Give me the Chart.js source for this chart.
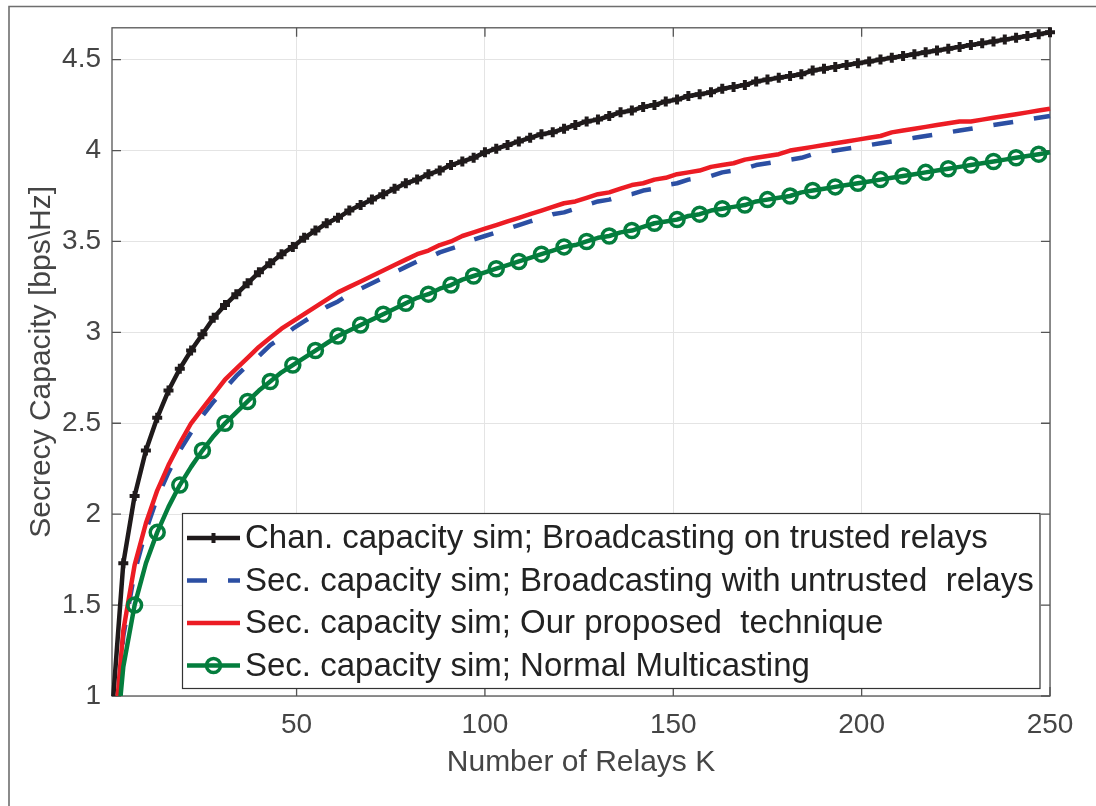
<!DOCTYPE html>
<html>
<head>
<meta charset="utf-8">
<script src="https://cdn.jsdelivr.net/npm/chart.js@4.4.1/dist/chart.umd.min.js"></script>
<style>
  html, body { margin: 0; padding: 0; background: #fff; }
  #wrap { width: 1096px; height: 806px; position: relative; }
</style>
</head>
<body>
<div id="wrap"><canvas id="chart"></canvas></div>
<script>
// Number of relays K (sampled every 3)
const relays = [1,4,7,10,13,16,19,22,25,28,31,34,37,40,43,46,49,52,55,58,61,64,67,70,73,76,79,82,85,88,91,94,97,100,
  103,106,109,112,115,118,121,124,127,130,133,136,139,142,145,148,151,154,157,160,163,166,169,172,175,178,181,184,187,190,
  193,196,199,202,205,208,211,214,217,220,223,226,229,232,235,238,241,244,247,250];

const chanTrusted = [0.90,1.73,2.10,2.35,2.53,2.68,2.80,2.90,2.99,3.08,3.15,3.21,3.27,3.33,3.38,3.43,3.47,3.52,3.56,3.60,
  3.63,3.67,3.70,3.73,3.76,3.79,3.82,3.84,3.87,3.89,3.92,3.94,3.96,3.99,4.01,4.03,4.05,4.07,4.09,4.10,4.12,4.14,4.16,4.17,
  4.19,4.21,4.22,4.24,4.25,4.27,4.28,4.30,4.31,4.32,4.34,4.35,4.36,4.38,4.39,4.40,4.41,4.42,4.44,4.45,4.46,4.47,4.48,4.49,
  4.50,4.51,4.52,4.53,4.54,4.55,4.56,4.57,4.58,4.59,4.60,4.61,4.62,4.63,4.64,4.65];

const secUntrusted = [0.61,1.33,1.68,1.91,2.09,2.23,2.35,2.45,2.54,2.62,2.69,2.76,2.82,2.87,2.93,2.97,3.02,3.06,3.10,3.14,
  3.17,3.21,3.24,3.27,3.30,3.33,3.36,3.39,3.41,3.44,3.46,3.48,3.51,3.53,3.55,3.57,3.59,3.61,3.63,3.65,3.66,3.68,3.70,3.72,
  3.73,3.75,3.76,3.78,3.79,3.81,3.82,3.84,3.85,3.86,3.88,3.89,3.90,3.92,3.93,3.94,3.95,3.96,3.98,3.99,4.00,4.01,4.02,4.03,
  4.04,4.05,4.06,4.07,4.08,4.09,4.10,4.11,4.12,4.13,4.14,4.15,4.16,4.17,4.18,4.19];

const secProposed = [0.63,1.36,1.72,1.95,2.13,2.27,2.39,2.50,2.58,2.66,2.74,2.80,2.86,2.92,2.97,3.02,3.06,3.10,3.14,3.18,
  3.22,3.25,3.28,3.31,3.34,3.37,3.40,3.43,3.45,3.48,3.50,3.53,3.55,3.57,3.59,3.61,3.63,3.65,3.67,3.69,3.71,3.72,3.74,3.76,
  3.77,3.79,3.81,3.82,3.84,3.85,3.87,3.88,3.89,3.91,3.92,3.93,3.95,3.96,3.97,3.98,4.00,4.01,4.02,4.03,4.04,4.05,4.06,4.07,
  4.08,4.10,4.11,4.12,4.13,4.14,4.15,4.16,4.16,4.17,4.18,4.19,4.20,4.21,4.22,4.23];

const secMulticast = [0.50,1.16,1.50,1.73,1.90,2.04,2.16,2.26,2.35,2.43,2.50,2.56,2.62,2.68,2.73,2.78,2.82,2.86,2.90,2.94,
  2.98,3.01,3.04,3.07,3.10,3.13,3.16,3.19,3.21,3.24,3.26,3.29,3.31,3.33,3.35,3.37,3.39,3.41,3.43,3.45,3.47,3.48,3.50,3.52,
  3.53,3.55,3.56,3.58,3.60,3.61,3.62,3.64,3.65,3.67,3.68,3.69,3.70,3.72,3.73,3.74,3.75,3.77,3.78,3.79,3.80,3.81,3.82,3.83,
  3.84,3.85,3.86,3.87,3.88,3.89,3.90,3.91,3.92,3.93,3.94,3.95,3.96,3.97,3.98,3.99];

const xTicks = [50, 100, 150, 200, 250];
const yTicks = [1, 1.5, 2, 2.5, 3, 3.5, 4, 4.5];

const legendLabels = [
    'Chan. capacity sim; Broadcasting on trusted relays',
    'Sec. capacity sim; Broadcasting with untrusted  relays',
    'Sec. capacity sim; Our proposed  technique',
    'Sec. capacity sim; Normal Multicasting'
];

const FONT = "'Liberation Sans', Arial, Helvetica, sans-serif";
const AXIS_COLOR = '#454545';

const toPoints = ys => ys.map((y, i) => ({ x: relays[i], y: y }));

// frame, inward ticks, figure border and the boxed legend
const matlabAxes = {
    id: 'matlabAxes',
    beforeDatasetsDraw(chart) {
        const { ctx, chartArea: a, scales } = chart;
        ctx.save();
        ctx.strokeStyle = '#555555';
        ctx.lineWidth = 1.3;
        ctx.strokeRect(a.left, a.top, a.right - a.left, a.bottom - a.top);
        ctx.beginPath();
        xTicks.forEach(t => {
            const px = scales.x.getPixelForValue(t);
            ctx.moveTo(px, a.bottom); ctx.lineTo(px, a.bottom - 9);
            ctx.moveTo(px, a.top); ctx.lineTo(px, a.top + 9);
        });
        yTicks.forEach(t => {
            const py = scales.y.getPixelForValue(t);
            ctx.moveTo(a.left, py); ctx.lineTo(a.left + 9, py);
            ctx.moveTo(a.right, py); ctx.lineTo(a.right - 9, py);
        });
        ctx.stroke();
        ctx.restore();
    },
    afterDraw(chart) {
        const { ctx } = chart;
        ctx.save();
        // figure border (top and left)
        ctx.strokeStyle = '#6e6e6e';
        ctx.lineWidth = 1.6;
        ctx.beginPath();
        ctx.moveTo(9, 806); ctx.lineTo(9, 6.5); ctx.lineTo(1096, 6.5);
        ctx.stroke();

        // legend
        const box = { left: 182.5, top: 513.5, right: 1040, bottom: 688.5 };
        ctx.fillStyle = '#ffffff';
        ctx.fillRect(box.left, box.top, box.right - box.left, box.bottom - box.top);
        ctx.strokeStyle = '#333333';
        ctx.lineWidth = 1.2;
        ctx.strokeRect(box.left, box.top, box.right - box.left, box.bottom - box.top);

        const rowY = [538, 580.5, 623, 665.5];
        chart.data.datasets.forEach((ds, i) => {
            const y = rowY[i];
            ctx.save();
            ctx.strokeStyle = ds.borderColor;
            ctx.lineWidth = ds.borderWidth;
            ctx.lineCap = 'butt';
            ctx.setLineDash(ds.borderDash || []);
            ctx.beginPath();
            ctx.moveTo(187, y); ctx.lineTo(240, y);
            ctx.stroke();
            ctx.setLineDash([]);
            if (ds.legendMarker) {
                ctx.fillStyle = 'rgba(0,0,0,0)';
                ctx.strokeStyle = ds.borderColor;
                ctx.lineWidth = ds.pointBorderWidth;
                Chart.helpers.drawPoint(ctx, {
                    pointStyle: ds.pointStyle,
                    radius: ds.legendMarker,
                    borderWidth: ds.pointBorderWidth
                }, 213.5, y);
            }
            ctx.restore();
            ctx.fillStyle = '#222222';
            ctx.font = '33px ' + FONT;
            ctx.textBaseline = 'middle';
            ctx.textAlign = 'left';
            ctx.fillText(legendLabels[i], 245, y + 1);
        });
        ctx.restore();
    }
};

new Chart(document.getElementById('chart'), {
    type: 'line',
    data: {
        datasets: [
            {
                label: legendLabels[0],
                data: toPoints(chanTrusted),
                borderColor: '#1f1a1b',
                backgroundColor: '#1f1a1b',
                borderWidth: 4.5,
                pointStyle: 'cross',
                pointRadius: 5,
                pointBorderWidth: 4,
                pointBorderColor: '#1f1a1b',
                legendMarker: 5,
                order: 4
            },
            {
                label: legendLabels[1],
                data: toPoints(secUntrusted),
                borderColor: '#2c4fa3',
                borderWidth: 4.5,
                borderDash: [20, 21],
                pointRadius: 0,
                order: 3
            },
            {
                label: legendLabels[2],
                data: toPoints(secProposed),
                borderColor: '#ec1c24',
                borderWidth: 4.5,
                pointRadius: 0,
                order: 2
            },
            {
                label: legendLabels[3],
                data: toPoints(secMulticast),
                borderColor: '#047d3d',
                borderWidth: 4.5,
                pointStyle: 'circle',
                pointRadius: c => (c.dataIndex % 2 === 0 && c.dataIndex > 0) ? 7 : 0,
                pointBorderWidth: 3.5,
                pointBorderColor: '#047d3d',
                pointBackgroundColor: 'rgba(0,0,0,0)',
                legendMarker: 7,
                order: 1
            }
        ]
    },
    options: {
        responsive: true,
        maintainAspectRatio: false,
        animation: false,
        devicePixelRatio: 1,
        layout: { padding: { left: 0, right: 46, top: 23, bottom: 0 } },
        elements: { line: { tension: 0, borderCapStyle: 'butt', borderJoinStyle: 'round' } },
        datasets: { line: { clip: { left: 2, right: 8, top: 8, bottom: 0 } } },
        plugins: {
            legend: { display: false },
            tooltip: { enabled: false }
        },
        scales: {
            x: {
                type: 'linear',
                min: 1,
                max: 250,
                afterBuildTicks: s => { s.ticks = xTicks.map(v => ({ value: v })); },
                afterFit: s => { s.height = 110; },
                grid: { color: '#e4e4e4', lineWidth: 1, drawTicks: false },
                border: { display: false },
                ticks: {
                    padding: 12,
                    color: AXIS_COLOR,
                    font: { family: FONT, size: 28 },
                    maxRotation: 0
                },
                title: {
                    display: true,
                    text: 'Number of Relays K',
                    color: AXIS_COLOR,
                    font: { family: FONT, size: 30 },
                    padding: { top: 0, bottom: 25 }
                }
            },
            y: {
                type: 'linear',
                min: 1,
                max: 4.675,
                afterBuildTicks: s => { s.ticks = yTicks.map(v => ({ value: v })); },
                afterFit: s => { s.width = 112; },
                grid: { color: '#e4e4e4', lineWidth: 1, drawTicks: false },
                border: { display: false },
                ticks: {
                    padding: 11,
                    color: AXIS_COLOR,
                    font: { family: FONT, size: 28 },
                    callback: v => String(v)
                },
                title: {
                    display: true,
                    text: 'Secrecy Capacity [bps\\Hz]',
                    color: AXIS_COLOR,
                    font: { family: FONT, size: 30 },
                    padding: { top: 24, bottom: 0 }
                }
            }
        }
    },
    plugins: [matlabAxes]
});
</script>
</body>
</html>
